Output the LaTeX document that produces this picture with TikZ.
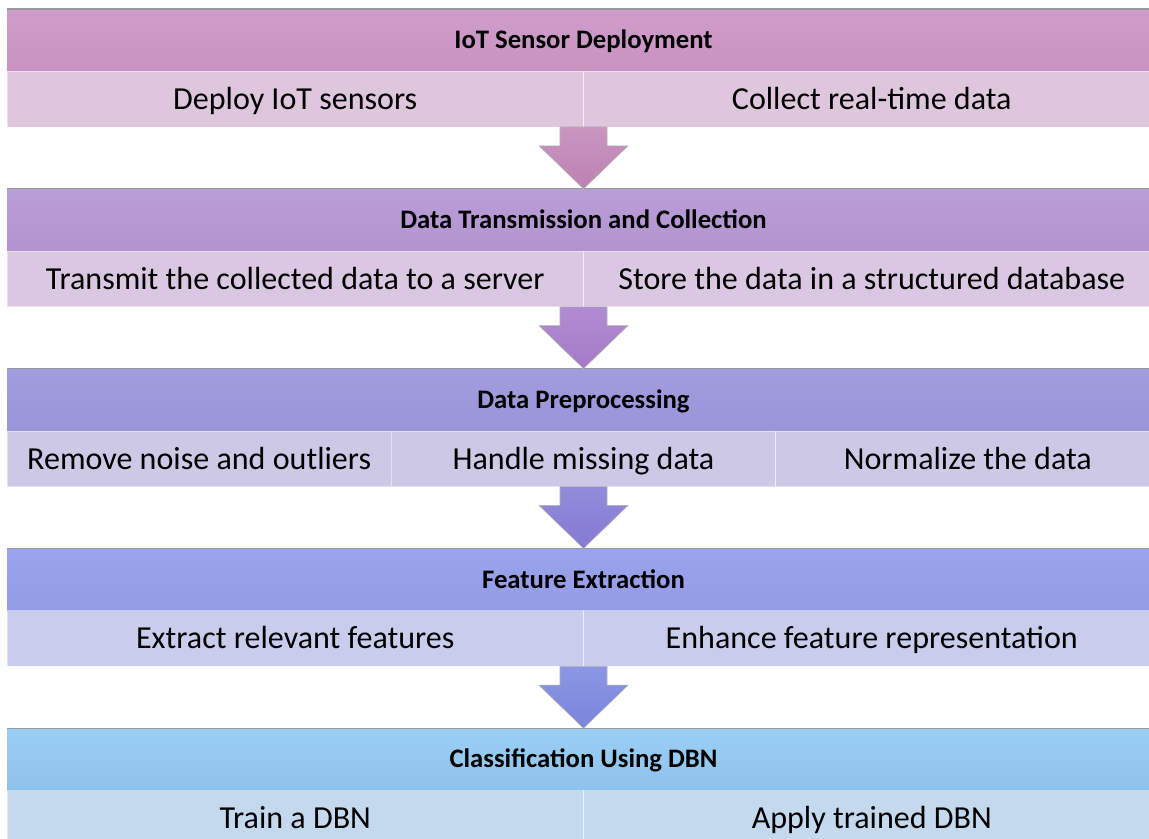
\documentclass[tikz,border=0pt]{standalone}
\usepackage{fontspec}
\setmainfont{Carlito}
\usepackage{tikz}
\usetikzlibrary{shapes,arrows,calc,positioning}
\definecolor{hdAt}{HTML}{D09DC9}
\definecolor{hdAb}{HTML}{C892C1}
\definecolor{rwA}{HTML}{DEC6DC}
\definecolor{arAt}{HTML}{C996C0}
\definecolor{arAb}{HTML}{BD80B2}
\definecolor{hdBt}{HTML}{BA9ED8}
\definecolor{hdBb}{HTML}{B293CF}
\definecolor{rwB}{HTML}{DAC8E3}
\definecolor{arBt}{HTML}{B18CD2}
\definecolor{arBb}{HTML}{A47AC7}
\definecolor{hdCt}{HTML}{A29DDF}
\definecolor{hdCb}{HTML}{9A94D8}
\definecolor{rwC}{HTML}{CEC8E7}
\definecolor{arCt}{HTML}{938CDC}
\definecolor{arCb}{HTML}{8379D2}
\definecolor{hdDt}{HTML}{9AA4EB}
\definecolor{hdDb}{HTML}{929BE4}
\definecolor{rwD}{HTML}{C8CDEC}
\definecolor{arDt}{HTML}{8B96E4}
\definecolor{arDb}{HTML}{7A85DC}
\definecolor{hdEt}{HTML}{9ACFF5}
\definecolor{hdEb}{HTML}{8FC2EB}
\definecolor{rwE}{HTML}{C5D9EE}
\tikzstyle{header} = [rectangle, minimum width=28.825cm, minimum height=1.56cm, inner sep=0pt, outer sep=0pt, text centered, text height=12.2pt, text depth=0pt, font=\fontsize{19}{22}\selectfont\bfseries]
\tikzstyle{cell} = [rectangle, minimum height=1.39cm, inner sep=0pt, outer sep=0pt, draw=white, draw opacity=0.45, line width=0.6pt, text centered, text height=14.7pt, text depth=0pt, font=\fontsize{22.8}{26}\selectfont]
\tikzstyle{half} = [cell, minimum width=14.4125cm]
\tikzstyle{third} = [cell, minimum width=9.6083cm]
\tikzstyle{topline} = [draw=black!40, line width=0.8pt]
\tikzstyle{blockarrow} = [draw=black!30, line width=0.4pt, line join=miter]
% block arrow from a row cell down to the next header
\newcommand{\stagearrow}[4]{%
  \coordinate (tip) at (#2.north);
  \coordinate (neck) at (#1.south -| tip);
  \path[blockarrow, top color=#3, bottom color=#4] ($(neck)+(-0.5875,0)$) -- ($(neck)+(0.5875,0)$) -- ($(tip)+(0.5875,1.075)$) -- ($(tip)+(1.1125,1.075)$) -- (tip) -- ($(tip)+(-1.1125,1.075)$) -- ($(tip)+(-0.5875,1.075)$) -- cycle;
}

\begin{document}
\begin{tikzpicture}[node distance=1.545cm]
        \useasboundingbox (0,0) rectangle (28.725,20.95);
        \clip (0,0) rectangle (28.725,20.95);
        \node[header, top color=hdAt, bottom color=hdAb, anchor=north west] (h1) at (0.175,20.725) {IoT Sensor Deployment};
        \node[half, fill=rwA, below right=0pt and 0pt of h1.south west] (c1a) {Deploy IoT sensors};
        \node[half, fill=rwA, right=0pt of c1a] (c1b) {Collect real-time data};
        \node[header, top color=hdBt, bottom color=hdBb, below right=1.545cm and 0pt of c1a.south west] (h2) {Data Transmission and Collection};
        \node[half, fill=rwB, below right=0pt and 0pt of h2.south west] (c2a) {Transmit the collected data to a server};
        \node[half, fill=rwB, right=0pt of c2a] (c2b) {Store the data in a structured database};
        \node[header, top color=hdCt, bottom color=hdCb, below right=1.545cm and 0pt of c2a.south west] (h3) {Data Preprocessing};
        \node[third, fill=rwC, below right=0pt and 0pt of h3.south west] (c3a) {Remove noise and outliers};
        \node[third, fill=rwC, right=0pt of c3a] (c3b) {Handle missing data};
        \node[third, fill=rwC, right=0pt of c3b] (c3c) {Normalize the data};
        \node[header, top color=hdDt, bottom color=hdDb, below right=1.545cm and 0pt of c3a.south west] (h4) {Feature Extraction};
        \node[half, fill=rwD, below right=0pt and 0pt of h4.south west] (c4a) {Extract relevant features};
        \node[half, fill=rwD, right=0pt of c4a] (c4b) {Enhance feature representation};
        \node[header, top color=hdEt, bottom color=hdEb, below right=1.545cm and 0pt of c4a.south west] (h5) {Classification Using DBN};
        \node[half, fill=rwE, below right=0pt and 0pt of h5.south west] (c5a) {Train a DBN};
        \node[half, fill=rwE, right=0pt of c5a] (c5b) {Apply trained DBN};
        \foreach \h in {h1,h2,h3,h4,h5}
            \draw[topline] (\h.north west) -- (\h.north east);
        \stagearrow{c1a}{h2}{arAt}{arAb}
        \stagearrow{c2a}{h3}{arBt}{arBb}
        \stagearrow{c3a}{h4}{arCt}{arCb}
        \stagearrow{c4a}{h5}{arDt}{arDb}
    \end{tikzpicture}
\end{document}
